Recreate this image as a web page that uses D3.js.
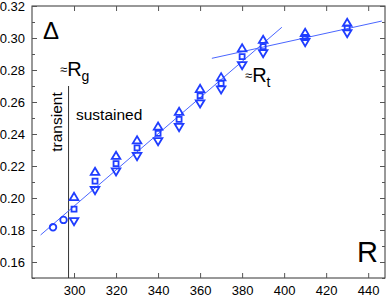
<!DOCTYPE html>
<html>
<head>
<meta charset="utf-8">
<script src="https://cdn.jsdelivr.net/npm/d3@7"></script>
<style>
  body { margin: 0; background: #fff; }
  svg { font-family: "Liberation Sans", Arial, sans-serif; }
</style>
</head>
<body>
<svg id="stage" width="392" height="297"></svg>
<script>
var rTri = [300, 310, 320, 330, 340, 350, 360, 370, 380, 390, 410, 430],
    dUp = [0.2006, 0.2163, 0.2263, 0.2360, 0.2446, 0.2538, 0.2681, 0.2754, 0.2935, 0.2988, 0.3031, 0.3094],
    dSq = [0.1931, 0.2106, 0.2215, 0.2313, 0.2404, 0.2492, 0.2639, 0.2717, 0.2883, 0.2946, 0.3003, 0.3063],
    dDown = [0.1856, 0.2050, 0.2167, 0.2263, 0.2356, 0.2444, 0.2592, 0.2679, 0.2831, 0.2906, 0.2975, 0.3031],
    rCirc = [290, 295],
    dCirc = [0.1817, 0.1863],
    fit1R = [284.1, 398.9],
    fit1D = [0.1769, 0.3067],
    fit2R = [365.6, 446.5],
    fit2D = [0.2873, 0.3106],
    rSplit = 297.4,
    xTicks = [300, 320, 340, 360, 380, 400, 420, 440],
    yTicks = [0.16, 0.18, 0.20, 0.22, 0.24, 0.26, 0.28, 0.30, 0.32],
    yMinor = [0.15, 0.17, 0.19, 0.21, 0.23, 0.25, 0.27, 0.29, 0.31];

var svg = d3.select('#stage'),
    LEFT = 32, RIGHT = 385, TOP = 6, BOTTOM = 278,
    BLUE = '#1f3dff',
    LINE = '#4a66ff';

var x = d3.scaleLinear().domain([280, 448]).range([LEFT, RIGHT]),
    y = d3.scaleLinear().domain([0.15, 0.32]).range([BOTTOM, TOP]);

// frame
svg.append('rect')
  .attr('x', LEFT).attr('y', TOP)
  .attr('width', RIGHT - LEFT).attr('height', BOTTOM - TOP)
  .attr('fill', 'none').attr('stroke', '#333').attr('stroke-width', 1);

function axisText(sel) {
  sel.selectAll('text').attr('font-size', 13).attr('fill', '#000');
  sel.select('.domain').remove();
  sel.selectAll('line').attr('stroke', '#555');
}

svg.append('g').attr('transform', 'translate(0,' + BOTTOM + ')')
  .call(d3.axisBottom(x).tickValues(xTicks).tickSize(-5).tickPadding(8).tickFormat(d3.format('d')))
  .call(axisText);
svg.append('g').attr('transform', 'translate(0,' + TOP + ')')
  .call(d3.axisTop(x).tickValues(xTicks).tickSize(-5).tickFormat(''))
  .call(axisText);
svg.append('g').attr('transform', 'translate(' + LEFT + ',0)')
  .call(d3.axisLeft(y).tickValues(yTicks).tickSize(-5).tickPadding(7).tickFormat(d3.format('.2f')))
  .call(axisText);
svg.append('g').attr('transform', 'translate(' + LEFT + ',0)')
  .call(d3.axisLeft(y).tickValues(yMinor).tickSize(-3).tickFormat(''))
  .call(axisText);
svg.append('g').attr('transform', 'translate(' + RIGHT + ',0)')
  .call(d3.axisRight(y).tickValues(yTicks).tickSize(-5).tickFormat(''))
  .call(axisText);
svg.append('g').attr('transform', 'translate(' + RIGHT + ',0)')
  .call(d3.axisRight(y).tickValues(yMinor).tickSize(-3).tickFormat(''))
  .call(axisText);

// separation line
svg.append('line')
  .attr('x1', x(rSplit)).attr('x2', x(rSplit))
  .attr('y1', 86).attr('y2', BOTTOM)
  .attr('stroke', '#333').attr('stroke-width', 1);

// fits
[[fit1R, fit1D], [fit2R, fit2D]].forEach(function (f) {
  svg.append('line')
    .attr('x1', x(f[0][0])).attr('y1', y(f[1][0]))
    .attr('x2', x(f[0][1])).attr('y2', y(f[1][1]))
    .attr('stroke', LINE).attr('stroke-width', 1);
});

function markers(vals, pathFn) {
  svg.append('g').selectAll('path')
    .data(vals)
    .enter().append('path')
    .attr('d', function (d, i) { return pathFn(x(rTri[i]), y(d)); })
    .attr('fill', 'none')
    .attr('stroke', BLUE)
    .attr('stroke-width', 1.8);
}

markers(dUp, function (cx, cy) {
  return 'M' + (cx - 4.3) + ',' + (cy + 3) + 'L' + cx + ',' + (cy - 4.2) + 'L' + (cx + 4.3) + ',' + (cy + 3) + 'Z';
});
markers(dDown, function (cx, cy) {
  return 'M' + (cx - 4.3) + ',' + (cy - 3) + 'L' + cx + ',' + (cy + 4.2) + 'L' + (cx + 4.3) + ',' + (cy - 3) + 'Z';
});
markers(dSq, function (cx, cy) {
  return 'M' + (cx - 2.5) + ',' + (cy - 2.5) + 'h5v5h-5Z';
});

svg.append('g').selectAll('circle')
  .data(dCirc)
  .enter().append('circle')
  .attr('cx', function (d, i) { return x(rCirc[i]); })
  .attr('cy', function (d) { return y(d); })
  .attr('r', 3.3)
  .attr('fill', 'none')
  .attr('stroke', BLUE)
  .attr('stroke-width', 1.8);

// labels
svg.append('text').attr('x', 43).attr('y', 39).attr('font-size', 24).text('Δ');
svg.append('text').attr('x', 378).attr('y', 262).attr('font-size', 29)
  .attr('text-anchor', 'end').text('R');

function approx(px, py, sub) {
  var t = svg.append('text').attr('x', px).attr('y', py).attr('font-size', 20);
  t.append('tspan').attr('font-size', 13).attr('dy', -2).text('≈');
  t.append('tspan').attr('dy', 2).text('R');
  t.append('tspan').attr('font-size', 14).attr('dy', 5).text(sub);
}
approx(60, 76, 'g');
approx(245, 82, 't');

svg.append('text').attr('x', 76).attr('y', 120).attr('font-size', 15.5).text('sustained');
svg.append('text')
  .attr('transform', 'translate(62,122) rotate(-90)')
  .attr('text-anchor', 'middle')
  .attr('font-size', 15.5)
  .text('transient');
</script>
</body>
</html>
